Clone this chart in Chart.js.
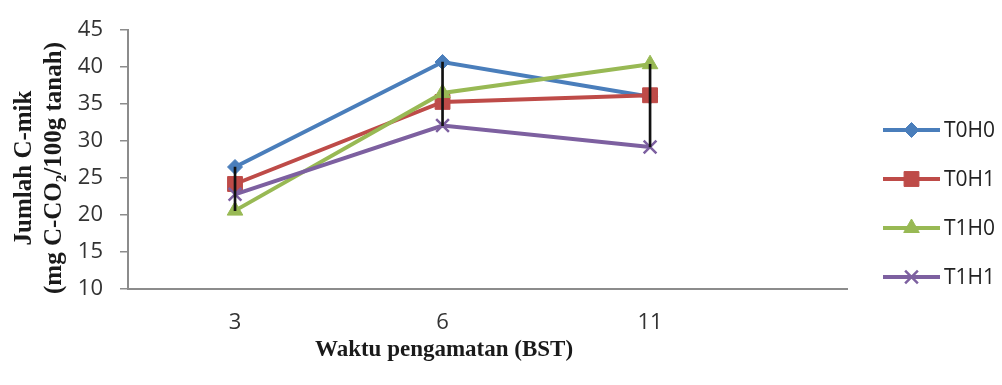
<!DOCTYPE html>
<html>
<head>
<meta charset="utf-8">
<script src="https://cdn.jsdelivr.net/npm/chart.js@4/dist/chart.umd.min.js"></script>
<style>
  html, body { margin: 0; padding: 0; background: #ffffff; }
  #wrap { width: 1002px; height: 385px; }
</style>
</head>
<body>
<div id="wrap"><canvas id="c" width="1002" height="385"></canvas></div>
<script>
// ---- data ----
const categories = ['3', '6', '11'];
const seriesNames = ['T0H0', 'T0H1', 'T1H0', 'T1H1'];
const T0H0 = [26.5, 40.7, 36.0];
const T0H1 = [24.2, 35.3, 36.2];
const T1H0 = [20.6, 36.5, 40.4];
const T1H1 = [22.8, 32.1, 29.2];
const yTicks = [10, 15, 20, 25, 30, 35, 40, 45];
const xTitle = 'Waktu pengamatan (BST)';
const yTitle = ['Jumlah C-mik', '(mg C-CO\u2082/100g tanah)'];

// ---- styles ----
const seriesValues = [T0H0, T0H1, T1H0, T1H1];
const colors = ['#4a7ebb', '#be4b48', '#98b954', '#7d60a0'];
const pointStyles = ['rectRot', 'rect', 'triangle', 'crossRot'];
const pointRadius = [7.5, 10.5, 9, 9];
const tickFont = { family: '"Open Sans", "Liberation Sans", sans-serif', size: 22 };
const titleFontFamily = '"Liberation Serif", "Times New Roman", serif';
const axisColor = '#8c8c8c';

const lineDatasets = seriesValues.map((vals, s) => ({
  type: 'line',
  label: seriesNames[s],
  data: vals.map((v, i) => ({ x: i, y: v })),
  borderColor: colors[s],
  backgroundColor: colors[s],
  pointBackgroundColor: colors[s],
  pointBorderColor: colors[s],
  pointStyle: pointStyles[s],
  pointRadius: pointRadius[s],
  pointBorderWidth: pointStyles[s] === 'crossRot' ? 2.5 : 1,
  borderWidth: 4,
  tension: 0,
  order: 10 - s
}));

// high-low lines (span from min to max of all series at each category)
const hiLo = categories.map((c, i) => {
  const vals = seriesValues.map(arr => arr[i]);
  return { x: i, y: [Math.min(...vals), Math.max(...vals)] };
});

const hiLoDataset = {
  type: 'bar',
  label: 'hilo',
  data: hiLo,
  backgroundColor: '#111111',
  borderWidth: 0,
  barThickness: 2,
  order: 0
};

const titlesAndLegend = {
  id: 'titlesAndLegend',
  afterDraw(chart) {
    const ctx = chart.ctx;
    ctx.save();
    // x axis title
    ctx.fillStyle = '#1a1a1a';
    ctx.font = 'bold 23px ' + titleFontFamily;
    ctx.textAlign = 'center';
    ctx.textBaseline = 'middle';
    ctx.fillText(xTitle, 444, 350);
    // y axis title (rotated, two lines)
    ctx.save();
    ctx.translate(0, 168);
    ctx.rotate(-Math.PI / 2);
    ctx.font = 'bold 25px ' + titleFontFamily;
    ctx.fillText(yTitle[0], 0, 25);
    ctx.fillText(yTitle[1], 0, 55);
    ctx.restore();
    // legend
    const lx0 = 883, lx1 = 940, tx = 944;
    seriesNames.forEach((name, s) => {
      const y = 130 + s * 49;
      ctx.strokeStyle = colors[s];
      ctx.lineWidth = 4;
      ctx.beginPath();
      ctx.moveTo(lx0, y);
      ctx.lineTo(lx1, y);
      ctx.stroke();
      ctx.fillStyle = colors[s];
      ctx.lineWidth = pointStyles[s] === 'crossRot' ? 2.5 : 1;
      Chart.helpers.drawPoint(ctx, {
        pointStyle: pointStyles[s],
        radius: pointRadius[s],
        rotation: 0,
        borderWidth: pointStyles[s] === 'crossRot' ? 2.5 : 1
      }, (lx0 + lx1) / 2, y);
      ctx.fillStyle = '#222222';
      ctx.font = '21px ' + tickFont.family;
      ctx.textAlign = 'left';
      ctx.textBaseline = 'middle';
      ctx.fillText(name, tx, y + 1);
    });
    ctx.restore();
  }
};

new Chart(document.getElementById('c'), {
  data: { datasets: [...lineDatasets, hiLoDataset] },
  options: {
    responsive: false,
    devicePixelRatio: 1,
    animation: false,
    layout: { padding: { left: 0, right: 155, top: 26, bottom: 0 } },
    plugins: { legend: { display: false }, tooltip: { enabled: false } },
    scales: {
      x: {
        type: 'linear',
        offset: false,
        min: -0.5157,
        max: 2.949,
        afterBuildTicks: (scale) => { scale.ticks = categories.map((c, i) => ({ value: i })); },
        afterFit: (scale) => { scale.height = 96; },
        grid: { display: false, drawTicks: false, offset: false },
        border: { display: true, color: axisColor, width: 2 },
        ticks: {
          callback: (v) => categories[v],
          font: tickFont,
          color: '#333333',
          padding: 21,
          maxRotation: 0,
          autoSkip: false
        }
      },
      y: {
        type: 'linear',
        min: 10,
        max: 45,
        afterBuildTicks: (scale) => { scale.ticks = yTicks.map(v => ({ value: v })); },
        afterFit: (scale) => { scale.width = 128; },
        grid: { drawOnChartArea: false, drawTicks: true, tickLength: 8, color: axisColor, lineWidth: 1.5 },
        border: { display: true, color: axisColor, width: 2 },
        ticks: { font: tickFont, color: '#333333', padding: 17 }
      }
    }
  },
  plugins: [titlesAndLegend]
});
</script>
</body>
</html>
